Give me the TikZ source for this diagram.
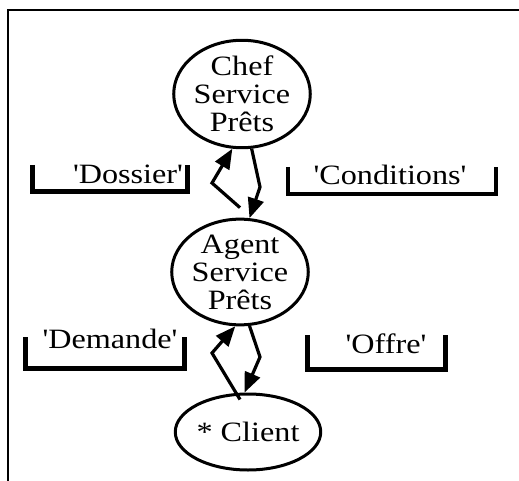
\documentclass[tikz,border=0pt]{standalone}
\usepackage{fontspec}
\newfontfamily\diagfont[FakeStretch=1.15]{Liberation Serif}
\usetikzlibrary{shapes.geometric,arrows.meta}
\begin{document}
\begin{tikzpicture}[x=1pt,y=-1pt,
  actor/.style={ellipse,draw,line width=3pt,inner sep=0pt,align=center,
    font=\diagfont\fontsize{28}{28}\selectfont},
  flow/.style={line width=3.2pt,line join=miter,
    -{Triangle[length=20pt,width=16pt]}},
  bracket/.style={line width=#1,line join=miter},
  bracket/.default=5pt,
  msg/.style={anchor=base,inner sep=0pt,font=\diagfont\fontsize{28}{28}\selectfont}]
\useasboundingbox (0,0) rectangle (519,481);
% frame: top and left edges only
\draw[line width=2.8pt] (519,10) -- (8,10) -- (8,481);

% actors
\node[actor,minimum width=110pt,minimum height=98pt] (chef) at (242,94) {Chef\\Service\\Prêts};
\node[actor,minimum width=114pt,minimum height=90pt] (agent) at (240,272) {Agent\\Service\\Prêts};
\node[actor,minimum width=116pt,minimum height=76pt] (client) at (248,432) {* Client};

% bends of the message flows
\coordinate (b1) at (212,183);
\coordinate (b2) at (260,187);
\coordinate (b3) at (212,353);
\coordinate (b4) at (260,357);

\draw[flow] ([yshift=10pt]agent.north) -- (b1) -- (chef.260);
\draw[flow] (chef.280) -- (b2) -- (agent.80);
\draw[flow] ([shift={(-8pt,-7pt)}]client.north) -- (b3) -- (agent.265);
\draw[flow] (agent.280) -- (b4) -- (client.95);

% message brackets and labels
\draw[bracket] (32,165) -- (32,192) -- (187,192) -- (187,165);
\node[msg] (dossier) at (128,184) {'Dossier'};
\draw[bracket=3.4pt] (288,167) -- (288,194) -- (496,194) -- (496,167);
\node[msg] (conditions) at (390,185) {'Conditions'};
\draw[bracket] (25,337) -- (25,368) -- (184,368) -- (184,337);
\node[msg] (demande) at (110,348) {'Demande'};
\draw[bracket] (307,335) -- (307,369) -- (445,369) -- (445,335);
\node[msg] (offre) at (386,353) {'Offre'};
\end{tikzpicture}
\end{document}
